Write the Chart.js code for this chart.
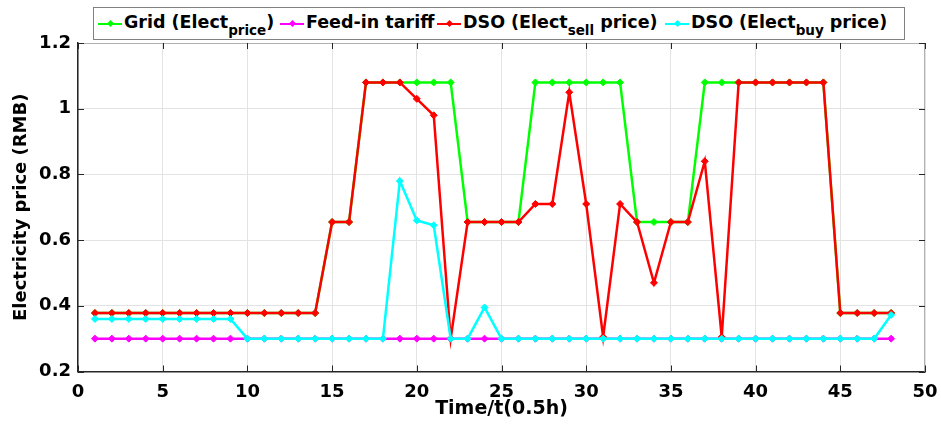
<!DOCTYPE html>
<html>
<head>
<meta charset="utf-8">
<script src="https://cdn.jsdelivr.net/npm/chart.js@4.4.0/dist/chart.umd.min.js"></script>
<style>
  body { margin: 0; background: #fff; }
  #wrap { position: relative; width: 941px; height: 432px; }
  #legend {
    position: absolute; left: 93px; top: 7px; width: 810px; height: 31px;
    border: 1px solid #808080; background: #fff;
    font-family: "DejaVu Sans", sans-serif; font-weight: bold; font-size: 17.5px; color: #000;
    white-space: nowrap;
  }
  .item { position: absolute; top: 0; height: 31px; display: flex; align-items: center; }
  .item span.txt { position: relative; top: -2px; }
  .swatch { position: relative; width: 24px; height: 2px; margin-right: 2px; }
  .swatch i { position: absolute; left: 9.5px; top: -2px; width: 5px; height: 5px; transform: rotate(45deg); }
  sub { font-size: 13.5px; vertical-align: -7px; line-height: 0; }
</style>
</head>
<body>
<div id="wrap">
  <canvas id="priceChart" width="941" height="432"></canvas>
  <div id="legend">
    <div class="item" style="left:4px"><span class="swatch" style="background:#00ff00"><i style="background:#00ff00"></i></span><span class="txt">Grid (Elect<sub>price</sub>)</span></div>
    <div class="item" style="left:186px"><span class="swatch" style="background:#ff00ff"><i style="background:#ff00ff"></i></span><span class="txt">Feed-in tariff</span></div>
    <div class="item" style="left:343px"><span class="swatch" style="background:#ff0000"><i style="background:#ff0000"></i></span><span class="txt">DSO (Elect<sub>sell</sub> price)</span></div>
    <div class="item" style="left:571px"><span class="swatch" style="background:#00ffff"><i style="background:#00ffff"></i></span><span class="txt">DSO (Elect<sub>buy</sub> price)</span></div>
  </div>
</div>
<script>
// periodos de 0.5h
const times = [1, 2, 3, 4, 5, 6, 7, 8, 9, 10, 11, 12, 13, 14, 15, 16, 17, 18, 19, 20, 21, 22, 23, 24,
               25, 26, 27, 28, 29, 30, 31, 32, 33, 34, 35, 36, 37, 38, 39, 40, 41, 42, 43, 44, 45, 46, 47, 48];

const gridPrice = [0.378, 0.378, 0.378, 0.378, 0.378, 0.378, 0.378, 0.378, 0.378, 0.378, 0.378, 0.378, 0.378, 0.378,
                   0.655, 0.655, 1.08, 1.08, 1.08, 1.08, 1.08, 1.08, 0.655, 0.655, 0.655, 0.655,
                   1.08, 1.08, 1.08, 1.08, 1.08, 1.08, 0.655, 0.655, 0.655, 0.655,
                   1.08, 1.08, 1.08, 1.08, 1.08, 1.08, 1.08, 1.08, 0.378, 0.378, 0.378, 0.378];

const feedIn = [0.3, 0.3, 0.3, 0.3, 0.3, 0.3, 0.3, 0.3, 0.3, 0.3, 0.3, 0.3, 0.3, 0.3, 0.3, 0.3,
                0.3, 0.3, 0.3, 0.3, 0.3, 0.3, 0.3, 0.3, 0.3, 0.3, 0.3, 0.3, 0.3, 0.3, 0.3, 0.3,
                0.3, 0.3, 0.3, 0.3, 0.3, 0.3, 0.3, 0.3, 0.3, 0.3, 0.3, 0.3, 0.3, 0.3, 0.3, 0.3];

const dsoSell = [0.378, 0.378, 0.378, 0.378, 0.378, 0.378, 0.378, 0.378, 0.378, 0.378, 0.378, 0.378, 0.378, 0.378,
                 0.655, 0.655, 1.08, 1.08, 1.08, 1.03, 0.98, 0.3, 0.655, 0.655, 0.655, 0.655,
                 0.71, 0.71, 1.05, 0.71, 0.305, 0.71, 0.655, 0.47, 0.655, 0.655,
                 0.84, 0.305, 1.08, 1.08, 1.08, 1.08, 1.08, 1.08, 0.378, 0.378, 0.378, 0.378];

const dsoBuy = [0.36, 0.36, 0.36, 0.36, 0.36, 0.36, 0.36, 0.36, 0.36, 0.3, 0.3, 0.3, 0.3, 0.3, 0.3, 0.3,
                0.3, 0.3, 0.78, 0.66, 0.645, 0.3, 0.3, 0.395, 0.3, 0.3, 0.3, 0.3, 0.3, 0.3, 0.3, 0.3,
                0.3, 0.3, 0.3, 0.3, 0.3, 0.3, 0.3, 0.3, 0.3, 0.3, 0.3, 0.3, 0.3, 0.3, 0.3, 0.372];

const xTicks = { min: 0, max: 50, step: 5 };
const yTicks = { min: 0.2, max: 1.2, step: 0.2 };

const fontFamily = '"DejaVu Sans", sans-serif';

function serie(label, values, color, order) {
    return {
        label: label,
        data: values.map((v, i) => ({ x: times[i], y: v })),
        borderColor: color,
        backgroundColor: color,
        borderWidth: 2.5,
        pointStyle: 'rectRot',
        pointRadius: 3.5,
        pointBorderWidth: 1,
        tension: 0,
        order: order
    };
}

// moldura estilo MATLAB: borda superior/direita e ticks para dentro
const moldura = {
    id: 'moldura',
    afterDraw(chart) {
        const { ctx, chartArea: a, scales: { x, y } } = chart;
        ctx.save();
        ctx.strokeStyle = '#b0b0b0';
        ctx.lineWidth = 1;
        ctx.beginPath();
        ctx.moveTo(a.left, a.top + 0.5);
        ctx.lineTo(a.right - 0.5, a.top + 0.5);
        ctx.lineTo(a.right - 0.5, a.bottom);
        ctx.stroke();

        ctx.strokeStyle = '#262626';
        ctx.beginPath();
        x.ticks.forEach(t => {
            const px = Math.round(x.getPixelForValue(t.value)) + 0.5;
            ctx.moveTo(px, a.bottom); ctx.lineTo(px, a.bottom - 6);
            ctx.moveTo(px, a.top); ctx.lineTo(px, a.top + 6);
        });
        y.ticks.forEach(t => {
            const py = Math.round(y.getPixelForValue(t.value)) + 0.5;
            ctx.moveTo(a.left, py); ctx.lineTo(a.left + 6, py);
            ctx.moveTo(a.right, py); ctx.lineTo(a.right - 6, py);
        });
        ctx.stroke();
        ctx.restore();
    }
};

new Chart(document.getElementById('priceChart').getContext('2d'), {
    type: 'line',
    data: {
        datasets: [
            serie('Grid (Elect price)', gridPrice, '#00ff00', 3),
            serie('Feed-in tariff', feedIn, '#ff00ff', 2),
            serie('DSO (Elect sell price)', dsoSell, '#ff0000', 1),
            serie('DSO (Elect buy price)', dsoBuy, '#00ffff', 0)
        ]
    },
    options: {
        responsive: false,
        animation: false,
        layout: { padding: { top: 43, right: 16, left: 0, bottom: 0 } },
        plugins: { legend: { display: false }, tooltip: { enabled: false } },
        scales: {
            x: {
                type: 'linear',
                min: xTicks.min, max: xTicks.max,
                ticks: { stepSize: xTicks.step, color: '#000', maxRotation: 0, padding: 10,
                         font: { family: fontFamily, weight: 'bold', size: 18 } },
                grid: { color: '#e3e3e3', drawTicks: false },
                border: { color: '#262626', width: 1.5 },
                title: { display: true, text: 'Time/t(0.5h)', color: '#000', padding: 12,
                         font: { family: fontFamily, weight: 'bold', size: 19 } },
                afterFit(scale) {
                    scale.height = 60.5;
                    scale.paddingLeft = 0;
                    scale.paddingRight = 0;
                }
            },
            y: {
                min: yTicks.min, max: yTicks.max,
                ticks: { stepSize: yTicks.step, color: '#000', padding: 7,
                         font: { family: fontFamily, weight: 'bold', size: 18 },
                         callback: v => String(Number(v.toFixed(1))) },
                grid: { color: '#e3e3e3', drawTicks: false },
                border: { color: '#262626', width: 1.5 },
                title: { display: true, text: 'Electricity price (RMB)', color: '#000', padding: 11,
                         font: { family: fontFamily, weight: 'bold', size: 18 } },
                afterFit(scale) {
                    scale.width = 78;
                    scale.paddingTop = 0;
                    scale.paddingBottom = 0;
                }
            }
        }
    },
    plugins: [moldura]
});
</script>
</body>
</html>
